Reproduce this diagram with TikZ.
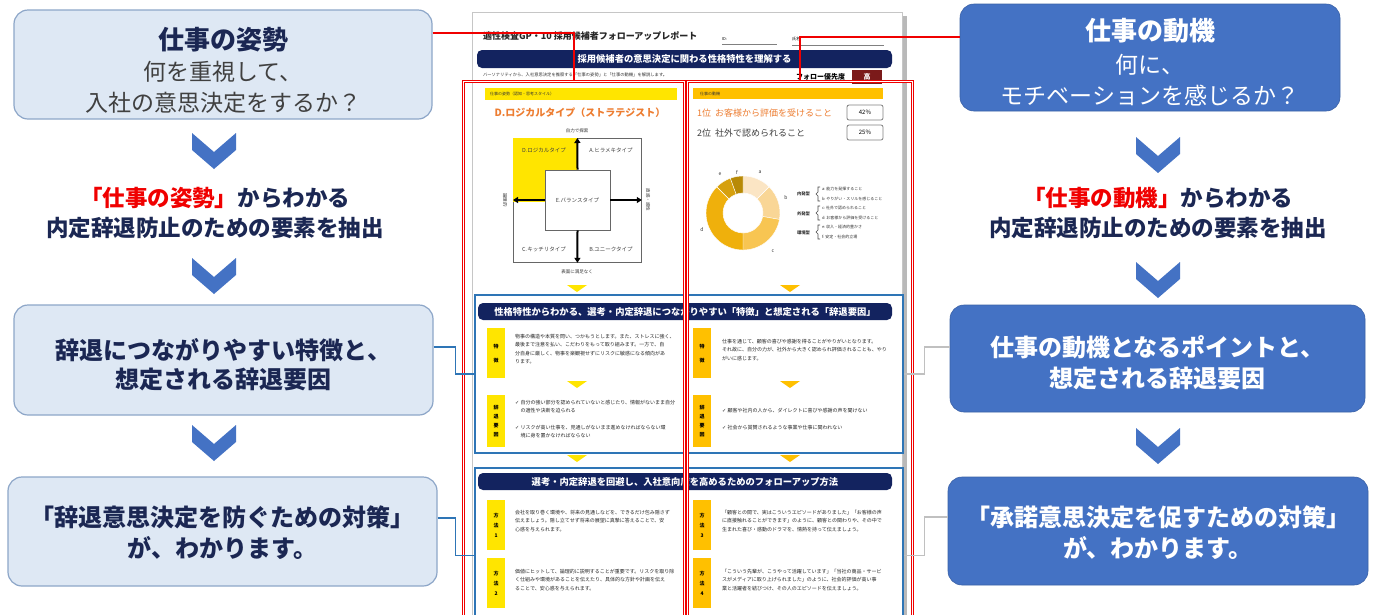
\documentclass[tikz,border=0pt]{standalone}
\usepackage{fontspec}
\setmainfont{Noto Sans CJK JP}
\newfontfamily\dejavu{DejaVu Sans}
\usetikzlibrary{arrows.meta,calc}
\definecolor{lbfill}{HTML}{DEE8F4}
\definecolor{lbdraw}{HTML}{8DA6C8}
\definecolor{mblue}{HTML}{4472C4}
\definecolor{navy}{HTML}{1B2753}
\definecolor{tgray}{HTML}{404040}
\definecolor{redc}{HTML}{F00000}
\definecolor{secblue}{HTML}{2E75B6}
\definecolor{bannav}{HTML}{13235F}
\definecolor{yel}{HTML}{FFE500}
\definecolor{org}{HTML}{FFC000}
\definecolor{orgtxt}{HTML}{ED7D31}
\definecolor{dred}{HTML}{7B1A1A}
\definecolor{conngray}{HTML}{C0C0C0}
\definecolor{dA}{HTML}{FBE5C4}
\definecolor{dB}{HTML}{F9D696}
\definecolor{dC}{HTML}{F8C552}
\definecolor{dD}{HTML}{EFB00C}
\definecolor{dE}{HTML}{D6A00E}
\definecolor{dF}{HTML}{B88A06}
\newcommand\fs[2]{\fontsize{#1}{#2}\selectfont}
\newcommand\ck{{\dejavu ✓}}
\newcommand\chev[2]{\fill[mblue] (#1-22,#2) -- (#1,#2+19) -- (#1+22,#2) -- (#1+22,#2+17) -- (#1,#2+36) -- (#1-22,#2+17) -- cycle;}
\newcommand\tri[3]{\fill[#3] (#1-10,#2) -- (#1+10,#2) -- (#1,#2+7) -- cycle;}
\tikzset{
 lbox/.style={draw=lbdraw, fill=lbfill, line width=1.2pt, rounded corners=14pt, inner sep=0pt},
 rbox/.style={fill=mblue, draw=mblue!85!black, line width=0.6pt, rounded corners=14pt, inner sep=0pt},
 txt/.style={inner sep=0pt, outer sep=0pt},
 bigL/.style={txt, text=navy, font=\bfseries\fs{24}{28}},
 bigR/.style={txt, text=white, font=\bfseries\fs{24}{28}},
 redbox/.style={draw=redc, double=white, double distance=1.2pt, line width=1pt, inner sep=0pt, anchor=north west},
 redline/.style={draw=redc, line width=2pt},
 bline/.style={draw=secblue, line width=1.5pt},
 gline/.style={draw=conngray, line width=1.5pt},
 secbox/.style={draw=secblue, line width=2pt, inner sep=0pt, anchor=north west},
 banner/.style={fill=bannav, rounded corners=5pt, text=white, font=\bfseries\fs{9.3}{10}, inner sep=0pt},
 tagY/.style={fill=yel, minimum width=18pt, minimum height=50pt, inner sep=0pt, align=center, anchor=north west},
 tagO/.style={tagY, fill=org},
 para/.style={inner sep=0pt, anchor=north west, align=left, font=\fs{5}{8.5}, text=black!85},
 tiny/.style={txt, font=\fs{4.5}{5}, text=black!80},
 qlab/.style={txt, font=\fs{5.5}{6}, text=black!75},
 arr/.style={line width=2pt, -{Triangle[length=5pt,width=6pt]}},
 pct/.style={draw=gray, line width=0.8pt, rounded corners=2pt, minimum width=36pt, minimum height=15pt, inner sep=0pt, font=\fs{6}{7}},
}
\begin{document}
\begin{tikzpicture}[x=1pt,y=-1pt]
\useasboundingbox (0,0) rectangle (1385,614);
\clip (0,0) rectangle (1385,614);
\fill[white] (0,0) rectangle (1385,614);

% ---------- central document ----------
\fill[gray!55] (476,16) rectangle (907,640);
\node[draw=gray!45, fill=white, line width=1pt, minimum width=430pt, minimum height=630pt, anchor=north west, inner sep=0pt] (page) at (472,12) {};
\node[txt, anchor=west, font=\bfseries\fs{9}{10}, text=black!85] (dtitle) at (483,36) {適性検査GP・10 採用候補者フォローアップレポート};
\node[txt, anchor=west, font=\fs{4}{5}] (did) at (722,39) {ID:};
\node[txt, anchor=west, font=\fs{4}{5}] (dname) at (792,39) {氏名:};
\draw[gray, line width=0.7pt] (did.south west) ++(0,4) -- ++(55,0);
\draw[gray, line width=0.7pt] (dname.south west) ++(0,4) -- ++(92,0);
\node[banner, minimum width=415pt, minimum height=18pt] (ban0) at (684.5,59) {採用候補者の意思決定に関わる性格特性を理解する};
\node[tiny, anchor=west, font=\fs{4.3}{5}] (dnote) at (483,75) {パーソナリティから、入社意思決定を推察する「仕事の姿勢」と「仕事の動機」を解説します。};
\node[txt, anchor=east, font=\bfseries\fs{7}{8}] (dprio) at (845,77) {フォロー優先度};
\node[fill=dred, minimum width=30pt, minimum height=14pt, inner sep=0pt, text=white, font=\bfseries\fs{7}{8}] (dhigh) at (867,77) {高};

% left column
\node[fill=yel, minimum width=192pt, minimum height=12pt, anchor=north west, inner sep=0pt] (hdrL) at (485,88) {};
\node[tiny, anchor=west, font=\fs{4}{5}] (hdrLt) at (490,94) {仕事の姿勢（認知・思考スタイル）};
\node[txt, font=\bfseries\fs{10}{11}, text=orgtxt] (typeT) at (580,113) {D.ロジカルタイプ（ストラテジスト）};
\node[draw=black!60, line width=0.8pt, minimum width=128pt, minimum height=124pt, anchor=north west, inner sep=0pt] (quad) at (513,138) {};
\fill[yel] (513.4,138.4) rectangle (577,202);
\node[draw=black!60, fill=white, line width=0.8pt, minimum width=65pt, minimum height=60pt, inner sep=0pt, font=\fs{5.5}{6}, text=black!75] (qE) at (577.5,200) {E.バランスタイプ};
\draw[arr] (qE.north) -- (quad.north);
\draw[arr] (qE.south) -- (quad.south);
\draw[arr] (qE.west) -- (quad.west |- qE.west);
\draw[arr] (qE.east) -- (quad.east |- qE.east);
\node[qlab] (qD) at (544,150) {D.ロジカルタイプ};
\node[qlab] (qA) at (611,150) {A.ヒラメキタイプ};
\node[qlab] (qC) at (544,249) {C.キッチリタイプ};
\node[qlab] (qB) at (611,249) {B.ユニークタイプ};
\node[tiny] (axT) at (577,131) {自力で探索};
\node[tiny] (axB) at (577,272) {表面に満足なく};
\node[tiny, rotate=-90] (axL) at (505,200) {論理的};
\node[tiny, rotate=-90] (axR) at (648,200) {直感・感性};
\tri{577}{285}{yel}

% right column
\node[fill=org, minimum width=190pt, minimum height=11pt, anchor=north west, inner sep=0pt] (hdrR) at (693,88) {};
\node[tiny, anchor=west, font=\fs{4}{5}] (hdrRt) at (700,93.5) {仕事の動機};
\node[txt, anchor=west, font=\fs{9}{10}, text=orgtxt] (rank1) at (697,113) {1位\ \ お客様から評価を受けること};
\node[txt, anchor=west, font=\fs{9}{10}, text=black!75] (rank2) at (697,133) {2位\ \ 社外で認められること};
\node[pct] (p1) at (865,112.5) {42\%};
\node[pct] (p2) at (865,132.5) {25\%};
\begin{scope}[shift={(743,213)}]
\foreach \s/\e/\c in {-90/-45/dA, -45/10/dB, 10/90/dC, 90/225/dD, 225/250/dE, 250/270/dF}{
  \fill[\c, draw=white, line width=0.4pt] (\s:37) arc[start angle=\s, end angle=\e, radius=37] -- (\e:20) arc[start angle=\e, end angle=\s, radius=20] -- cycle;
}
\end{scope}
\node[tiny, font=\fs{5}{6}] (la) at (760,172) {a};
\node[tiny, font=\fs{5}{6}] (lb) at (786,198) {b};
\node[tiny, font=\fs{5}{6}] (lc) at (773,251) {c};
\node[tiny, font=\fs{5}{6}] (ld) at (702,230) {d};
\node[tiny, font=\fs{5}{6}] (le) at (720,174) {e};
\node[tiny, font=\fs{5}{6}] (lf) at (737,172) {f};
\node[tiny, anchor=west, font=\bfseries\fs{4.3}{5}] (g1) at (797,194) {内発型};
\node[tiny, anchor=west, font=\bfseries\fs{4.3}{5}] (g2) at (797,214) {外発型};
\node[tiny, anchor=west, font=\bfseries\fs{4.3}{5}] (g3) at (797,233) {環境型};
\foreach \yy in {187,206,225}{
  \draw[black!70, line width=0.6pt] (820,\yy) -- (818,\yy) -- (818,\yy+5) -- (816,\yy+7) -- (818,\yy+9) -- (818,\yy+14) -- (820,\yy+14);
}
\node[tiny, anchor=west, font=\fs{4}{5}] (ia) at (822,189) {a:\ 能力を発揮すること};
\node[tiny, anchor=west, font=\fs{4}{5}] (ib) at (822,199) {b:\ やりがい・スリルを感じること};
\node[tiny, anchor=west, font=\fs{4}{5}] (ic) at (822,208) {c:\ 社外で認められること};
\node[tiny, anchor=west, font=\fs{4}{5}] (id) at (822,218) {d:\ お客様から評価を受けること};
\node[tiny, anchor=west, font=\fs{4}{5}] (ie) at (822,227) {e:\ 収入・経済的豊かさ};
\node[tiny, anchor=west, font=\fs{4}{5}] (if) at (822,237) {f:\ 安定・社会的立場};
\tri{790}{285}{org}

% section 1
\node[secbox, minimum width=428pt, minimum height=158pt] (sec1) at (474,294) {};
\node[banner, minimum width=414pt, minimum height=17pt] (ban1) at (685,311.5) {性格特性からわかる、選考・内定辞退につながりやすい「特徴」と想定される「辞退要因」};
\node[tagY, font=\bfseries\fs{5}{14}] (t1) at (487,328) {特\\徴};
\node[para] (p1L) at (515,334) {物事の構造や本質を問い、つかもうとします。また、ストレスに強く、\\最後まで注意を払い、こだわりをもって取り組みます。一方で、自\\分自身に厳しく、物事を楽観視せずにリスクに敏感になる傾向があ\\ります。};
\tri{577}{381}{yel}
\node[tagY, minimum height=52pt, font=\bfseries\fs{5}{9}] (t2) at (487,395) {辞\\退\\要\\因};
\node[para] (p2L) at (515,400) {\ck\ 自分の強い部分を認められていないと感じたり、情報がないまま自分\\\phantom{\ck\ }の適性や決断を迫られる\\[8pt]\ck\ リスクが高い仕事を、見通しがないまま進めなければならない環\\\phantom{\ck\ }境に身を置かなければならない};
\node[tagO, font=\bfseries\fs{5}{14}] (t3) at (693,328) {特\\徴};
\node[para] (p1R) at (722,339) {仕事を通じて、顧客の喜びや感謝を得ることがやりがいとなります。\\それ故に、自分の力が、社外から大きく認められ評価されることも、やり\\がいに感じます。};
\tri{790}{381}{org}
\node[tagO, minimum height=52pt, font=\bfseries\fs{5}{9}] (t4) at (693,395) {辞\\退\\要\\因};
\node[para] (p2R) at (722,408) {\ck\ 顧客や社内の人から、ダイレクトに喜びや感謝の声を聞けない\\[9pt]\ck\ 社会から賞賛されるような事業や仕事に関われない};
\tri{577}{455}{yel}
\tri{790}{455}{org}

% section 2
\node[secbox, minimum width=428pt, minimum height=175pt] (sec2) at (474,467) {};
\node[banner, minimum width=414pt, minimum height=17pt] (ban2) at (685,481.5) {選考・内定辞退を回避し、入社意向度を高めるためのフォローアップ方法};
\node[tagY, font=\bfseries\fs{5}{10}] (m1) at (487,500) {方\\法\\1};
\node[para] (pm1) at (515,510) {会社を取り巻く環境や、将来の見通しなどを、できるだけ包み隠さず\\伝えましょう。隠し立てせず将来の展望に真摯に答えることで、安\\心感を与えられます。};
\node[tagY, font=\bfseries\fs{5}{10}] (m2) at (487,558) {方\\法\\2};
\node[para] (pm2) at (515,569) {価値にヒットして、論理的に説明することが重要です。リスクを取り除\\く仕組みや環境があることを伝えたり、具体的な方針や計画を伝え\\ることで、安心感を与えられます。};
\node[tagO, font=\bfseries\fs{5}{10}] (m3) at (693,500) {方\\法\\3};
\node[para] (pm3) at (722,510) {「顧客との間で、実はこういうエピソードがありました」「お客様の声\\に直接触れることができます」のように、顧客との関わりや、その中で\\生まれた喜び・感動のドラマを、情熱を持って伝えましょう。};
\node[tagO, font=\bfseries\fs{5}{10}] (m4) at (693,558) {方\\法\\4};
\node[para] (pm4) at (722,569) {「こういう先輩が、こうやって活躍しています」「当社の商品・サービ\\スがメディアに取り上げられました」のように、社会的評価が高い事\\業と活躍者を結びつけ、その人のエピソードを伝えましょう。};

% red frames
\node[redbox, minimum width=221pt, minimum height=560pt] (redL) at (463,81) {};
\node[redbox, minimum width=225pt, minimum height=560pt] (redR) at (687,81) {};

% ---------- left flow ----------
\node[lbox, minimum width=418pt, minimum height=109pt] (L1) at (223,64.5) {};
\node[txt, text=navy, font=\bfseries\fs{26}{30}] (L1a) at (223,40) {仕事の姿勢};
\node[txt, text=tgray, font=\fs{23}{27}] (L1b) at (223,72) {何を重視して、};
\node[txt, text=tgray, font=\fs{23}{27}] (L1c) at (223,103) {入社の意思決定をするか？};
\chev{214}{133}
\node[txt, text=navy, font=\bfseries\fs{22.5}{26}] (Lm1) at (215,198) {{\color{redc}「仕事の姿勢」}からわかる};
\node[txt, text=navy, font=\bfseries\fs{22.5}{26}] (Lm2) at (215,228) {内定辞退防止のための要素を抽出};
\chev{214}{258}
\node[lbox, minimum width=419pt, minimum height=110pt] (L2) at (223.5,360) {};
\node[bigL] (L2a) at (223.5,350) {辞退につながりやすい特徴と、};
\node[bigL] (L2b) at (223.5,379) {想定される辞退要因};
\chev{214}{425}
\node[lbox, minimum width=429pt, minimum height=109pt] (L3) at (222.5,531.5) {};
\node[bigL] (L3a) at (222.5,517) {「辞退意思決定を防ぐための対策」};
\node[bigL] (L3b) at (222.5,548) {が、わかります。};

% ---------- right flow ----------
\node[rbox, minimum width=380pt, minimum height=107pt] (R1) at (1150,57.5) {};
\node[txt, text=white, font=\bfseries\fs{26}{30}] (R1a) at (1150,31) {仕事の動機};
\node[txt, text=white, font=\fs{23}{27}] (R1b) at (1150,65) {何に、};
\node[txt, text=white, font=\fs{23}{27}] (R1c) at (1150,96) {モチベーションを感じるか？};
\chev{1158}{137}
\node[txt, text=navy, font=\bfseries\fs{22.5}{26}] (Rm1) at (1158,198) {{\color{redc}「仕事の動機」}からわかる};
\node[txt, text=navy, font=\bfseries\fs{22.5}{26}] (Rm2) at (1158,228) {内定辞退防止のための要素を抽出};
\chev{1158}{262}
\node[rbox, minimum width=415pt, minimum height=107pt] (R2) at (1157.5,358.5) {};
\node[bigR] (R2a) at (1157.5,347) {仕事の動機となるポイントと、};
\node[bigR] (R2b) at (1157.5,378) {想定される辞退要因};
\chev{1158}{428}
\node[rbox, minimum width=420pt, minimum height=108pt] (R3) at (1158,531) {};
\node[bigR] (R3a) at (1158,517) {「承諾意思決定を促すための対策」};
\node[bigR] (R3b) at (1158,548) {が、わかります。};

% ---------- connectors ----------
\draw[redline] ($(L1.east)+(0,-31.5)$) -| (redL.north);
\draw[redline] ($(R1.west)+(0,-20.5)$) -| (redR.north);
\draw[bline] ($(L2.east)+(0,-13)$) -- ++(22,0) |- (sec1.west);
\draw[bline] ($(L3.east)+(0,-13.5)$) -- ++(18,0) |- (sec2.west);
\draw[gline] ($(R2.west)+(0,-11.5)$) -- ++(-25,0) |- (sec1.east);
\draw[gline] ($(R3.west)+(0,-14)$) -- ++(-23,0) |- (sec2.east);
\end{tikzpicture}
\end{document}
